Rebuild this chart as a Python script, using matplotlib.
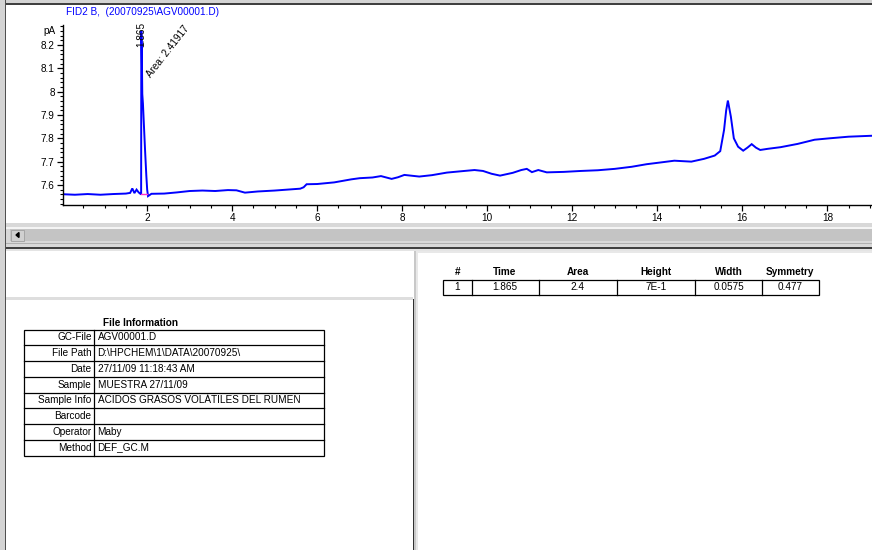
import matplotlib
matplotlib.use("Agg")
import matplotlib.pyplot as plt
from matplotlib.patches import Rectangle
from matplotlib.ticker import MultipleLocator

plt.rcParams['font.family'] = ['Liberation Sans', 'DejaVu Sans']

# --- DATA ---
SIGNAL_TITLE = "FID2 B,  (20070925\\AGV00001.D)"
Y_UNIT = "pA"

retention_time = [0.05, 0.3, 0.6, 0.9, 1.2, 1.5, 1.6, 1.65, 1.7, 1.75,
                  1.8, 1.84, 1.858, 1.862, 1.872, 1.885, 1.9, 1.92, 1.95, 1.98,
                  2.0, 2.02, 2.1, 2.4, 2.7, 3.0, 3.3, 3.6, 3.9, 4.1,
                  4.3, 4.6, 5.0, 5.3, 5.6, 5.68, 5.75, 6.0, 6.4, 6.8,
                  7.0, 7.3, 7.5, 7.75, 7.9, 8.05, 8.4, 8.7, 9.05, 9.4,
                  9.7, 9.9, 10.1, 10.3, 10.6, 10.8, 10.93, 11.05, 11.2, 11.4,
                  11.8, 12.2, 12.6, 13.0, 13.4, 13.75, 14.1, 14.4, 14.8, 15.1,
                  15.35, 15.48, 15.57, 15.62, 15.66, 15.73, 15.8, 15.9, 16.02, 16.12,
                  16.22, 16.32, 16.42, 16.6, 16.9, 17.3, 17.5, 17.7, 18.05, 18.5,
                  19.05]
signal_pa = [7.560, 7.558, 7.561, 7.558, 7.561, 7.563, 7.566, 7.585, 7.565, 7.580,
             7.568, 7.562, 7.560, 8.260, 8.200, 7.990, 7.950, 7.870, 7.750, 7.640,
             7.580, 7.552, 7.562, 7.563, 7.568, 7.574, 7.576, 7.574, 7.578, 7.577,
             7.567, 7.572, 7.576, 7.580, 7.584, 7.590, 7.603, 7.604, 7.611, 7.624,
             7.629, 7.632, 7.638, 7.626, 7.633, 7.643, 7.636, 7.642, 7.653, 7.659,
             7.664, 7.660, 7.648, 7.640, 7.652, 7.664, 7.669, 7.655, 7.664, 7.654,
             7.656, 7.660, 7.663, 7.669, 7.678, 7.689, 7.697, 7.704, 7.700, 7.712,
             7.726, 7.745, 7.836, 7.920, 7.962, 7.893, 7.800, 7.764, 7.747, 7.760,
             7.775, 7.760, 7.750, 7.755, 7.762, 7.776, 7.785, 7.794, 7.800, 7.807,
             7.811]

# integration baseline of the first peak (start/end time, level)
baseline_t = [1.855, 2.0]
baseline_y = [7.561, 7.561]

peak_rt_label = "1.865"
peak_area_label = "Area: 2.41917"

# peak table
peak_cols = ["#", "Time", "Area", "Height", "Width", "Symmetry"]
peak_row = ["1", "1.865", "2.4", "7E-1", "0.0575", "0.477"]

# file information
info_title = "File Information"
info_labels = ["GC-File", "File Path", "Date", "Sample", "Sample Info",
               "Barcode", "Operator", "Method"]
info_values = ["AGV00001.D", "D:\\HPCHEM\\1\\DATA\\20070925\\",
               "27/11/09 11:18:43 AM", "MUESTRA 27/11/09",
               "ACIDOS GRASOS VOLÁTILES DEL RUMEN", "", "Maby", "DEF_GC.M"]

# --- FIGURE ---
W, H = 872, 550
fig = plt.figure(figsize=(W / 100, H / 100), dpi=100)
fig.patch.set_facecolor('white')

# background "window" axes in pixel coordinates
bg = fig.add_axes([0, 0, 1, 1])
bg.set_xlim(0, W)
bg.set_ylim(H, 0)
bg.axis('off')

def rect(x, y, w, h, fc, ec='none', lw=0):
    bg.add_patch(Rectangle((x, y), w, h, facecolor=fc, edgecolor=ec, linewidth=lw))

# window frame
rect(0, 0, W, 3, '#d4d4d4')
rect(0, 3, W, 1.6, '#404040')
rect(0, 0, 4.5, H, '#d4d4d4')
rect(4.5, 0, 1.6, H, '#505050')

# scroll bar
rect(6, 223, W, 25, '#d8d8d8')
rect(6, 227, W, 1.5, '#f4f4f4')
rect(10, 229, W, 12, '#c4c4c4')
rect(11, 229.5, 13, 11, '#d0d0d0', ec='#a0a0a0', lw=0.6)
bg.fill([16, 19, 19], [235, 232.5, 237.5], color='black')
rect(6, 242.5, W, 1.5, '#b0b0b0')
rect(6, 247, W, 2, '#404040')
rect(6, 249, W, 2, '#e4e4e4')

# lower panes
rect(6, 297, 407, 2.5, '#dedede')
rect(412.5, 299, 1.8, H, '#303030')
rect(414.3, 251, 1.5, H, '#c8c8c8')
rect(416, 251, 2, H, '#e8e8e8')
rect(418, 251, W, 1.5, '#e8e8e8')

fs = 7.2

# peak table
col_edges = [443, 471.5, 538.5, 617, 695, 762, 818.5]
for i, name in enumerate(peak_cols):
    xc = (col_edges[i] + col_edges[i + 1]) / 2
    bg.text(xc, 272, name, ha='center', va='center', fontsize=fs, fontweight='bold')
    bg.text(xc, 287.5, peak_row[i], ha='center', va='center', fontsize=fs)
bg.add_patch(Rectangle((col_edges[0], 280), col_edges[-1] - col_edges[0], 15,
                       facecolor='none', edgecolor='black', linewidth=0.9))
for xe in col_edges[1:-1]:
    bg.plot([xe, xe], [280, 295], color='black', lw=0.9)

# file information table
bg.text(140, 322.5, info_title, ha='center', va='center', fontsize=fs, fontweight='bold')
tx0, tx1, tdiv = 24, 323.5, 94
ty0 = 329.5
row_h = (455.5 - ty0) / len(info_labels)
bg.add_patch(Rectangle((tx0, ty0), tx1 - tx0, row_h * len(info_labels),
                       facecolor='none', edgecolor='black', linewidth=0.9))
bg.plot([tdiv, tdiv], [ty0, ty0 + row_h * len(info_labels)], color='black', lw=0.9)
for i, (lab, val) in enumerate(zip(info_labels, info_values)):
    yc = ty0 + row_h * (i + 0.5)
    if i > 0:
        bg.plot([tx0, tx1], [ty0 + row_h * i] * 2, color='black', lw=0.9)
    bg.text(tdiv - 2.5, yc, lab, ha='right', va='center', fontsize=fs)
    bg.text(tdiv + 3.5, yc, val, ha='left', va='center', fontsize=fs)

# signal title and unit
bg.text(66, 12, SIGNAL_TITLE, ha='left', va='center', fontsize=fs, color='#0000ff')
bg.text(49, 31, Y_UNIT, ha='center', va='center', fontsize=fs)

# --- CHROMATOGRAM ---
ax = fig.add_axes([63 / W, 1 - 205 / H, 1 - 63 / W, 180 / H])
ax.patch.set_alpha(0)
ax.plot(retention_time, signal_pa, color='#0000ff', lw=1.4, solid_joinstyle='miter')
ax.plot(baseline_t, baseline_y, color='#ff33cc', lw=1)
ax.set_xlim(0.02, 19.05)
ax.set_ylim(7.514, 8.286)

for side in ('top', 'right'):
    ax.spines[side].set_visible(False)
ax.spines['left'].set_linewidth(1)
ax.spines['bottom'].set_linewidth(1)

ax.xaxis.set_major_locator(MultipleLocator(2))
ax.xaxis.set_minor_locator(MultipleLocator(0.5))
ax.yaxis.set_major_locator(MultipleLocator(0.1))
ax.yaxis.set_minor_locator(MultipleLocator(0.02))
ax.tick_params(axis='both', which='major', labelsize=fs, length=4, width=0.9, pad=2)
ax.tick_params(axis='both', which='minor', length=2, width=0.8)
ax.set_xticks([t for t in range(2, 19, 2)])
ax.set_xticklabels([str(t) for t in range(2, 19, 2)])
yt = [7.6, 7.7, 7.8, 7.9, 8.0, 8.1, 8.2]
ax.set_yticks(yt)
ax.set_yticklabels(['7.6', '7.7', '7.8', '7.9', '8', '8.1', '8.2'])

ax.text(1.865, 8.30, peak_rt_label, rotation=90, ha='center', va='top',
        fontsize=fs, clip_on=False)
ax.text(2.12, 8.055, peak_area_label, rotation=52, rotation_mode='anchor',
        ha='left', va='bottom', fontsize=fs, clip_on=False)

fig.savefig('out.png', dpi=100)
